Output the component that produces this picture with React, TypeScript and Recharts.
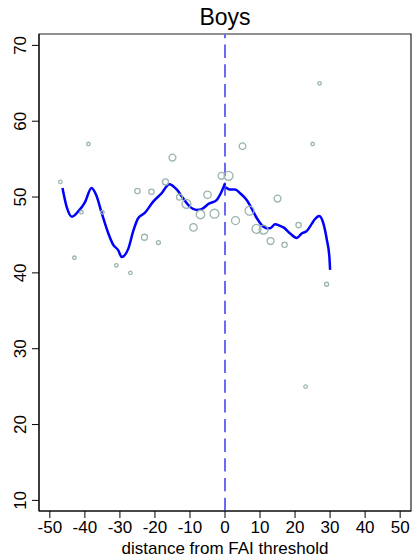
import { ComposedChart, Line, Scatter, XAxis, YAxis, ZAxis, ReferenceLine, ReferenceArea } from "recharts";

// binned means: distance, mean score, bin count (circle size)
const binX = [-47, -43, -41, -39, -35, -31, -27, -25, -23, -21, -19, -17, -15, -13, -11, -9, -7, -5, -3, -1, 1, 3, 5, 7, 9, 11, 13, 15, 17, 21, 23, 25, 27, 29];
const binY = [52.0, 42.0, 48.0, 57.0, 48.0, 41.0, 40.0, 50.8, 44.7, 50.7, 44.0, 52.0, 55.2, 50.0, 49.1, 46.0, 47.7, 50.3, 47.8, 52.8, 52.8, 46.9, 56.7, 48.2, 45.8, 45.7, 44.2, 49.8, 43.7, 46.3, 25.0, 57.0, 65.0, 38.5];
const binN = [3, 3, 3, 3, 3, 3, 3, 7, 9, 7, 4, 9, 12, 9, 20, 14, 18, 14, 20, 12, 20, 16, 11, 20, 20, 20, 12, 12, 7, 7, 3, 3, 3, 4];

// local smooth, left of threshold
const leftX = [-46.4, -45.2, -43.7, -41.9, -40.0, -38.1, -36.8, -35.2, -33.3, -31.9, -30.5, -29.5, -27.6, -26.2, -24.8, -22.9, -20.5, -18.1, -15.9, -13.8, -11.9, -10.0, -8.1, -6.7, -4.7, -2.4, -1.2, 0];
const leftY = [51.2, 48.7, 47.4, 48.1, 49.3, 51.2, 50.3, 47.9, 45.2, 43.7, 43.0, 42.1, 43.2, 45.5, 47.2, 47.9, 49.4, 50.5, 51.7, 51.0, 49.8, 48.7, 48.3, 48.4, 49.1, 49.6, 50.5, 51.8];

// local smooth, right of threshold
const rightX = [0.2, 1.4, 2.9, 4.3, 6.2, 7.6, 9.1, 10.5, 11.9, 12.9, 14.3, 15.7, 16.7, 18.6, 20.5, 21.9, 23.3, 24.8, 25.7, 26.9, 28.1, 29.1, 29.8, 30.0];
const rightY = [51.3, 51.0, 51.0, 50.5, 49.6, 48.5, 47.2, 46.3, 45.9, 45.9, 46.4, 46.2, 46.0, 45.2, 44.6, 45.2, 45.5, 46.5, 47.1, 47.5, 46.5, 44.3, 42.1, 40.4];

const xTicks = [-50, -40, -30, -20, -10, 0, 10, 20, 30, 40, 50];
const yTicks = [10, 20, 30, 40, 50, 60, 70];
const xDomain = [-53.1, 53.1];
const yDomain = [8.6, 71.5];

const bins = binX.map((x, i) => ({ x, y: binY[i], n: binN[i] }));
const left = leftX.map((x, i) => ({ x, y: leftY[i] }));
const right = rightX.map((x, i) => ({ x, y: rightY[i] }));

const font = '"Liberation Sans", Arial, sans-serif';

function YTick(props: any) {
  const { x, y, payload } = props;
  return (
    <text x={x} y={y} transform={`rotate(-90 ${x} ${y})`} textAnchor="middle" fontSize={17} fill="#000" fontFamily={font}>
      {payload.value}
    </text>
  );
}

export default function App() {
  return (
    <div style={{ position: "absolute", left: 0, top: 0, width: 412, height: 556, background: "#fff" }}>
      <div
        style={{
          position: "absolute",
          top: 5.5,
          left: 39,
          width: 372,
          textAlign: "center",
          fontFamily: font,
          fontSize: 23,
          lineHeight: "23px",
          color: "#000",
        }}
      >
        Boys
      </div>
      <ComposedChart width={412} height={556} margin={{ top: 34, right: 1, bottom: 0, left: 0 }} style={{ fontFamily: font }}>
        <XAxis
          dataKey="x"
          type="number"
          domain={xDomain}
          ticks={xTicks}
          allowDataOverflow
          height={45}
          tickSize={7}
          tickMargin={3}
          tick={{ fill: "#000", fontSize: 17 }}
          stroke="#000"
          label={{ value: "distance from FAI threshold", position: "insideBottom", offset: 2, fill: "#000", fontSize: 17 }}
        />
        <YAxis
          dataKey="y"
          type="number"
          domain={yDomain}
          ticks={yTicks}
          allowDataOverflow
          width={39}
          tickSize={7}
          tickMargin={6}
          tick={<YTick />}
          stroke="#000"
        />
        <ZAxis dataKey="n" type="number" domain={[0, 20]} range={[0, 62.8]} />
        {/* plot frame */}
        <ReferenceArea
          x1={xDomain[0]}
          x2={xDomain[1]}
          y1={yDomain[0]}
          y2={yDomain[1]}
          ifOverflow="visible"
          fill="none"
          fillOpacity={0}
          stroke="#222"
          strokeWidth={1.2}
        />
        <ReferenceLine x={0} stroke="#6a6af2" strokeWidth={2} strokeDasharray="13.3 6.4" />
        <Scatter data={bins} fill="none" stroke="#9bb5ad" strokeWidth={1.3} isAnimationActive={false} />
        <Line data={left} dataKey="y" type="monotone" stroke="#0000ff" strokeWidth={2.5} dot={false} isAnimationActive={false} />
        <Line data={right} dataKey="y" type="monotone" stroke="#0000ff" strokeWidth={2.5} dot={false} isAnimationActive={false} />
      </ComposedChart>
    </div>
  );
}
